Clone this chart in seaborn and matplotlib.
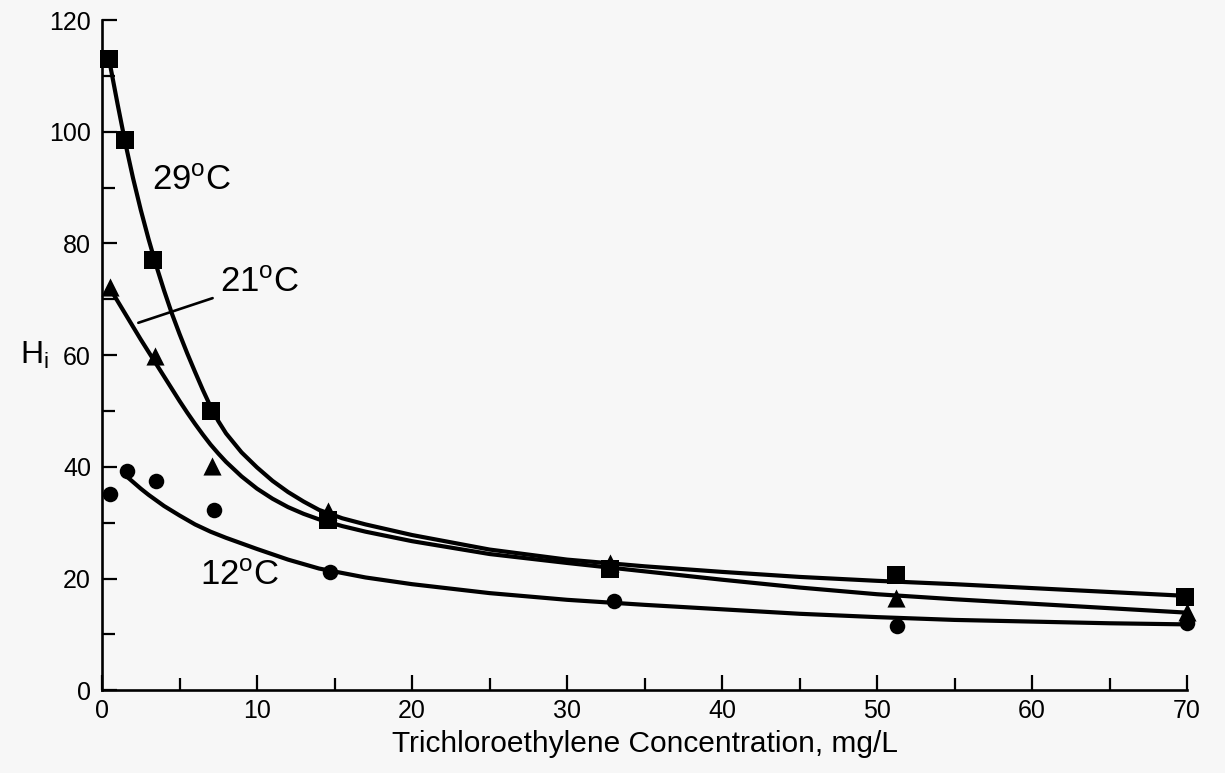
import pandas as pd
import matplotlib
matplotlib.use('Agg')
import matplotlib.pyplot as plt
from matplotlib.ticker import MultipleLocator
import seaborn as sns

# measured points (TCE concentration mg/L vs H_i)
conc_29 = [0.45, 1.5, 3.3, 7.05, 14.6, 32.8, 51.2, 69.9]
hi_29 = [113, 98.5, 77, 50, 30.5, 21.7, 20.6, 16.7]

conc_21 = [0.5, 3.4, 7.1, 14.6, 32.8, 51.2, 70.0]
hi_21 = [72.2, 59.8, 40.2, 32.1, 22.8, 16.6, 14.0]

conc_12 = [0.5, 1.6, 3.5, 7.2, 14.7, 33.0, 51.3, 70.0]
hi_12 = [35.1, 39.2, 37.5, 32.3, 21.1, 15.9, 11.6, 12.0]

# fitted curves
curve_x_29 = [0.45, 1, 1.5, 2, 2.5, 3, 3.5, 4, 4.5, 5, 5.5, 6, 6.5, 7, 7.5, 8, 9, 10, 11, 12, 13, 14,
              15.5, 17, 20, 25, 30, 35, 40, 45, 50, 55, 60, 65, 70]
curve_y_29 = [113, 105, 98, 91.7, 86, 80.8, 76, 71.6, 67.5, 63.8, 60.3, 57, 53.8, 50.8, 48.2, 46, 42.6, 39.9, 37.5, 35.5, 33.8, 32.3,
              30.8, 29.7, 27.8, 25.2, 23.4, 22.2, 21.2, 20.3, 19.6, 19.0, 18.3, 17.6, 16.9]

curve_x_21 = [0.5, 1, 1.5, 2, 2.5, 3, 3.5, 4, 4.5, 5, 5.5, 6, 6.5, 7, 7.5, 8, 9, 10, 11, 12, 13, 14,
              15.5, 17, 20, 25, 30, 35, 40, 45, 50, 55, 60, 65, 70]
curve_y_21 = [72, 69.7, 67.4, 65.1, 62.8, 60.6, 58.4, 56.2, 54.0, 51.8, 49.7, 47.7, 45.8, 44.0, 42.4, 40.9, 38.3, 36.1, 34.3, 32.8, 31.6, 30.6,
              29.4, 28.4, 26.7, 24.4, 22.8, 21.3, 19.8, 18.4, 17.2, 16.3, 15.5, 14.7, 13.9]

curve_x_12 = [1.5, 2, 2.5, 3, 3.5, 4, 5, 6, 7, 8, 10, 12, 14, 17, 20, 25, 30, 35, 40, 45, 50, 55, 60, 65, 70]
curve_y_12 = [38.5, 37.3, 36.1, 35, 34, 33, 31.3, 29.7, 28.4, 27.3, 25.3, 23.4, 21.8, 20.2, 19.0, 17.4, 16.2, 15.3, 14.5, 13.7, 13.1, 12.6, 12.3, 12.0, 11.8]

labels = ['29$^{\\mathregular{o}}$C', '21$^{\\mathregular{o}}$C', '12$^{\\mathregular{o}}$C']

sns.set_style('ticks')
plt.rcParams['font.family'] = ['Liberation Sans', 'DejaVu Sans']
plt.rcParams['mathtext.default'] = 'regular'
plt.rcParams['text.color'] = 'black'
plt.rcParams['axes.labelcolor'] = 'black'

bg = '#f7f7f7'
fig = plt.figure(figsize=(12.25, 7.73), dpi=100, facecolor=bg)
ax = fig.add_axes([0.0833, 0.107, 0.8857, 0.867])
ax.set_facecolor(bg)

curves = [(curve_x_29, curve_y_29), (curve_x_21, curve_y_21), (curve_x_12, curve_y_12)]
for cx, cy in curves:
    sns.lineplot(x=cx, y=cy, ax=ax, color='black', lw=3, sort=True, estimator=None)

points = [(conc_29, hi_29, 's', 175), (conc_21, hi_21, '^', 170), (conc_12, hi_12, 'o', 125)]
for px, py, mk, sz in points:
    sns.scatterplot(x=px, y=py, ax=ax, marker=mk, s=sz, color='black',
                    edgecolor='black', linewidth=0, clip_on=False, zorder=5)

ax.set_xlim(0, 70)
ax.set_ylim(0, 120)
ax.xaxis.set_major_locator(MultipleLocator(10))
ax.xaxis.set_minor_locator(MultipleLocator(5))
ax.yaxis.set_major_locator(MultipleLocator(20))
ax.yaxis.set_minor_locator(MultipleLocator(10))
ax.tick_params(which='major', direction='in', length=11, width=1.6, labelsize=18,
               colors='black', labelcolor='black')
ax.tick_params(which='minor', direction='in', length=9, width=1.6, colors='black')
ax.tick_params(axis='y', pad=8)
ax.tick_params(axis='x', pad=6)
sns.despine(ax=ax)
for side in ['left', 'bottom']:
    ax.spines[side].set_linewidth(1.9)
    ax.spines[side].set_color('black')

ax.set_xlabel('Trichloroethylene Concentration, mg/L', fontsize=21.5, labelpad=5)
ax.set_ylabel('H$_{\\mathregular{i}}$', fontsize=23, rotation=0, va='center', ha='center')
ax.yaxis.set_label_coords(-0.062, 0.5)

# curve labels
ax.text(3.2, 91.3, labels[0], fontsize=25, va='center', ha='left')
ax.annotate(labels[1], xy=(2.34, 65.8), xytext=(7.6, 73), fontsize=25, va='center', ha='left',
            arrowprops=dict(arrowstyle='-', color='black', lw=1.9, shrinkA=3, shrinkB=0))
ax.text(6.3, 20.5, labels[2], fontsize=25, va='center', ha='left')

fig.savefig('out.png', dpi=100, facecolor=bg)
